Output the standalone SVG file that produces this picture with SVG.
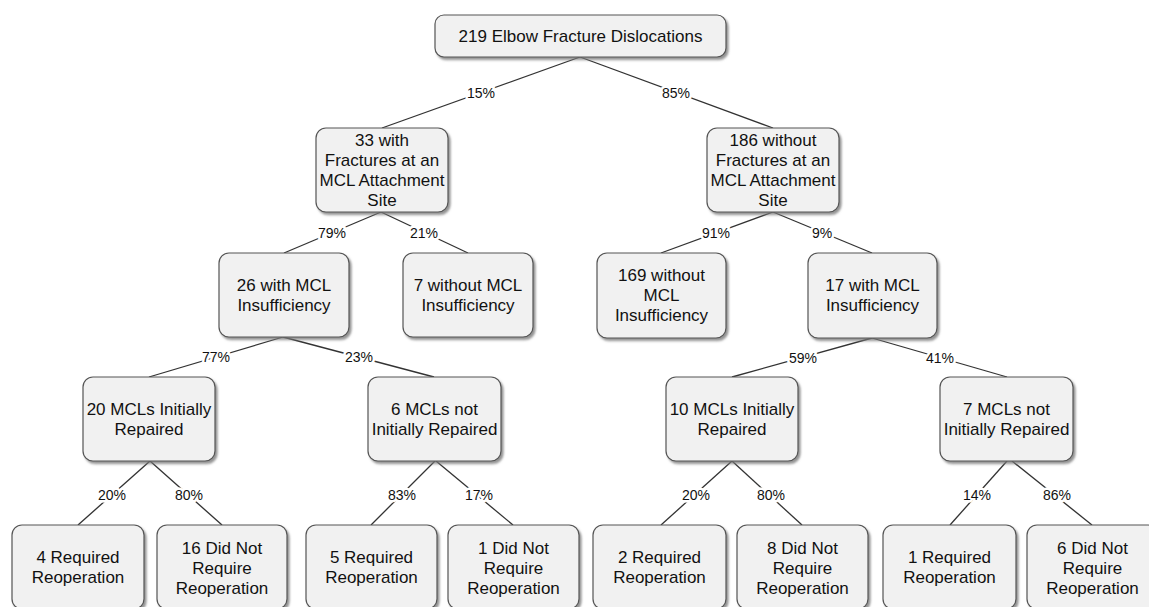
<svg xmlns="http://www.w3.org/2000/svg" width="1149" height="607" viewBox="0 0 1149 607">
<style>
.box{fill:#f1f1f1;stroke:#555;stroke-width:1.2;filter:url(#sh)}
.t{font-family:"Liberation Sans",Arial,sans-serif;font-size:17px;fill:#111;text-anchor:middle}
.e{stroke:#333;stroke-width:1.3;fill:none}
.p{font-family:"Liberation Sans",Arial,sans-serif;font-size:14px;fill:#111;text-anchor:middle;stroke:#fff;stroke-width:5;paint-order:stroke;stroke-linejoin:round}
</style>
<defs>
<filter id="sh" x="-10%" y="-10%" width="125%" height="130%">
<feDropShadow dx="2" dy="2.5" stdDeviation="1.2" flood-color="#777" flood-opacity="0.8"/>
</filter>
</defs>
<rect width="1149" height="607" fill="#fff"/>
<g id="connectors">
<line class="e" x1="580" y1="57" x2="382" y2="128"/>
<line class="e" x1="580" y1="57" x2="773" y2="128"/>
<line class="e" x1="381" y1="212" x2="284" y2="253"/>
<line class="e" x1="381" y1="212" x2="468" y2="253"/>
<line class="e" x1="773" y1="212" x2="661" y2="253"/>
<line class="e" x1="773" y1="212" x2="872" y2="253"/>
<line class="e" x1="283" y1="337" x2="149" y2="377"/>
<line class="e" x1="283" y1="337" x2="434" y2="377"/>
<line class="e" x1="872" y1="338" x2="732" y2="377"/>
<line class="e" x1="872" y1="338" x2="1007" y2="377"/>
<line class="e" x1="150" y1="461" x2="78" y2="525"/>
<line class="e" x1="150" y1="461" x2="222" y2="525"/>
<line class="e" x1="435" y1="461" x2="371" y2="525"/>
<line class="e" x1="436" y1="461" x2="513" y2="525"/>
<line class="e" x1="732" y1="461" x2="661" y2="525"/>
<line class="e" x1="732" y1="461" x2="802" y2="525"/>
<line class="e" x1="1007" y1="461" x2="950" y2="525"/>
<line class="e" x1="1012" y1="461" x2="1092" y2="525"/>
<text class="p" x="481" y="98">15%</text>
<text class="p" x="676" y="98">85%</text>
<text class="p" x="332" y="238">79%</text>
<text class="p" x="424" y="238">21%</text>
<text class="p" x="716" y="238">91%</text>
<text class="p" x="822" y="238">9%</text>
<text class="p" x="216" y="362">77%</text>
<text class="p" x="359" y="362">23%</text>
<text class="p" x="803" y="363">59%</text>
<text class="p" x="940" y="363">41%</text>
<text class="p" x="112" y="500">20%</text>
<text class="p" x="189" y="500">80%</text>
<text class="p" x="402" y="500">83%</text>
<text class="p" x="479" y="500">17%</text>
<text class="p" x="696" y="500">20%</text>
<text class="p" x="771" y="500">80%</text>
<text class="p" x="977" y="500">14%</text>
<text class="p" x="1057" y="500">86%</text>
</g>
<g id="n0"><rect class="box" x="435" y="15" width="291" height="42" rx="9"/><text class="t" x="580.5" y="42">219 Elbow Fracture Dislocations</text></g>
<g id="n1"><rect class="box" x="316" y="128" width="132" height="84" rx="10"/><text class="t" x="382" y="146">33 with</text><text class="t" x="382" y="166">Fractures at an</text><text class="t" x="382" y="186">MCL Attachment</text><text class="t" x="382" y="206">Site</text></g>
<g id="n2"><rect class="box" x="707" y="128" width="132" height="84" rx="10"/><text class="t" x="773" y="146">186 without</text><text class="t" x="773" y="166">Fractures at an</text><text class="t" x="773" y="186">MCL Attachment</text><text class="t" x="773" y="206">Site</text></g>
<g id="n3"><rect class="box" x="219" y="253" width="130" height="84" rx="10"/><text class="t" x="284" y="291">26 with MCL</text><text class="t" x="284" y="311">Insufficiency</text></g>
<g id="n4"><rect class="box" x="403" y="253" width="130" height="84" rx="10"/><text class="t" x="468" y="291">7 without MCL</text><text class="t" x="468" y="311">Insufficiency</text></g>
<g id="n5"><rect class="box" x="597" y="253" width="129" height="85" rx="10"/><text class="t" x="661.5" y="281">169 without</text><text class="t" x="661.5" y="301">MCL</text><text class="t" x="661.5" y="321">Insufficiency</text></g>
<g id="n6"><rect class="box" x="808" y="253" width="129" height="85" rx="10"/><text class="t" x="872.5" y="291">17 with MCL</text><text class="t" x="872.5" y="311">Insufficiency</text></g>
<g id="n7"><rect class="box" x="83" y="377" width="132" height="84" rx="10"/><text class="t" x="149" y="415">20 MCLs Initially</text><text class="t" x="149" y="435">Repaired</text></g>
<g id="n8"><rect class="box" x="368" y="377" width="133" height="84" rx="10"/><text class="t" x="434.5" y="415">6 MCLs not</text><text class="t" x="434.5" y="435">Initially Repaired</text></g>
<g id="n9"><rect class="box" x="666" y="377" width="132" height="84" rx="10"/><text class="t" x="732" y="415">10 MCLs Initially</text><text class="t" x="732" y="435">Repaired</text></g>
<g id="n10"><rect class="box" x="940" y="377" width="133" height="84" rx="10"/><text class="t" x="1006.5" y="415">7 MCLs not</text><text class="t" x="1006.5" y="435">Initially Repaired</text></g>
<g id="l1"><rect class="box" x="12" y="525" width="132" height="84" rx="10"/><text class="t" x="78" y="563">4 Required</text><text class="t" x="78" y="583">Reoperation</text></g>
<g id="l2"><rect class="box" x="157" y="525" width="130" height="84" rx="10"/><text class="t" x="222" y="554">16 Did Not</text><text class="t" x="222" y="574">Require</text><text class="t" x="222" y="594">Reoperation</text></g>
<g id="l3"><rect class="box" x="306" y="525" width="131" height="84" rx="10"/><text class="t" x="371.5" y="563">5 Required</text><text class="t" x="371.5" y="583">Reoperation</text></g>
<g id="l4"><rect class="box" x="448" y="525" width="131" height="84" rx="10"/><text class="t" x="513.5" y="554">1 Did Not</text><text class="t" x="513.5" y="574">Require</text><text class="t" x="513.5" y="594">Reoperation</text></g>
<g id="l5"><rect class="box" x="593" y="525" width="133" height="84" rx="10"/><text class="t" x="659.5" y="563">2 Required</text><text class="t" x="659.5" y="583">Reoperation</text></g>
<g id="l6"><rect class="box" x="737" y="525" width="131" height="84" rx="10"/><text class="t" x="802.5" y="554">8 Did Not</text><text class="t" x="802.5" y="574">Require</text><text class="t" x="802.5" y="594">Reoperation</text></g>
<g id="l7"><rect class="box" x="883" y="525" width="133" height="84" rx="10"/><text class="t" x="949.5" y="563">1 Required</text><text class="t" x="949.5" y="583">Reoperation</text></g>
<g id="l8"><rect class="box" x="1027" y="525" width="131" height="84" rx="10"/><text class="t" x="1092.5" y="554">6 Did Not</text><text class="t" x="1092.5" y="574">Require</text><text class="t" x="1092.5" y="594">Reoperation</text></g>
</svg>
